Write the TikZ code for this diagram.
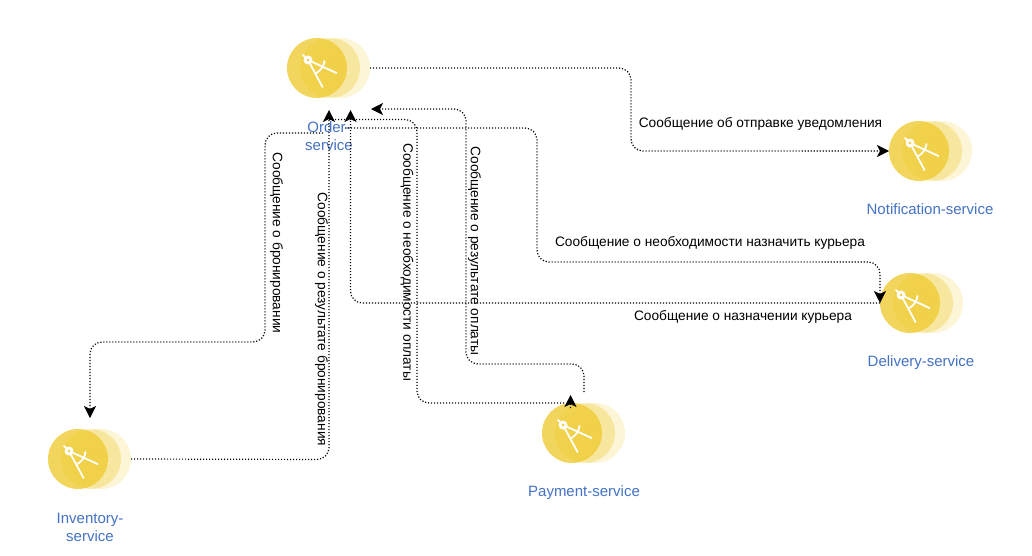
\documentclass[tikz,border=0pt]{standalone}
\usepackage{fontspec}
\setmainfont{Liberation Sans}
\usetikzlibrary{arrows.meta,positioning,calc}
\definecolor{servicefill}{HTML}{EFCB33}
\definecolor{servicetext}{HTML}{4472C4}
\tikzset{
    servicebox/.style={
        rectangle,
        inner sep=0pt,
        outer sep=0pt,
        minimum width=83pt,
        minimum height=60pt,
    },
    servicename/.style={
        align=center,
        text=servicetext,
        font=\fontsize{15}{18}\selectfont,
    },
    message/.style={
        font=\fontsize{13.7}{15}\selectfont,
        text=black,
    },
    link/.style={
        ->,
        line width=1.2pt,
        dash pattern=on 1.2pt off 1.8pt,
        rounded corners=12pt,
    },
    compassicon/.pic={
        \draw [line width=1.8pt,white,line cap=round] (-14,-13) -- (-9,-8) -- (5.5,19);
        \draw [line width=1.8pt,white,line cap=round] (-9,-8) -- (19.5,5);
        \draw [line width=1.8pt,white,line cap=round] (7.5,-7) .. controls (7,-2) and (4,2) .. (-0.5,5);
        \fill [white] (-9,-8) circle (4.5pt);
        \fill [servicefill] (-9,-8) circle (1.3pt);
    },
    ghosticon/.pic={
        \draw [line width=.8pt,white,line cap=round] (-9,-8) -- (5.5,19);
        \draw [line width=.8pt,white,line cap=round] (-9,-8) -- (19.5,5);
    },
    serviceicon/.pic={
        \fill [servicefill,opacity=.2] (23,0) circle (30pt);
        \pic [opacity=.45] at (23,0) {ghosticon};
        \fill [servicefill,opacity=.35] (13,0) circle (30pt);
        \pic [opacity=.45] at (13,0) {ghosticon};
        \fill [servicefill,opacity=.8] (0,0) circle (30pt);
        \pic at (0,0) {compassicon};
    },
}

\begin{document}
\begin{tikzpicture}[x=1pt,y=-1pt,>={Stealth[length=12pt,width=12pt,inset=3pt]}]
	    \useasboundingbox (0,0) rectangle (1032,555);
	    \pic at (317,68) {serviceicon};
	    \pic at (919,151) {serviceicon};
	    \pic at (910,303) {serviceicon};
	    \pic at (572,433) {serviceicon};
	    \pic at (78,459) {serviceicon};
	    \node [servicebox] (order) at (328.5,68) {};
	    \node [servicebox] (notification) at (930.5,151) {};
	    \node [servicebox] (delivery) at (921.5,303) {};
	    \node [servicebox] (payment) at (583.5,433) {};
	    \node [servicebox] (inventory) at (89.5,459) {};
	    \node [servicename] (orderlabel) at (329,136) {Order-\\service};
	    \node [servicename] (notificationlabel) at (930,209.5) {Notification-service};
	    \node [servicename] (deliverylabel) at (921,362.5) {Delivery-service};
	    \node [servicename] (paymentlabel) at (584,492.5) {Payment-service};
	    \node [servicename] (inventorylabel) at (90,527) {Inventory-\\service};
	    \coordinate (orderinv) at (329,110);
	    \coordinate (orderdel) at (350.5,110);
	    \coordinate (orderpay) at (371,109);
	    \coordinate (orderoutinv) at (323,133);
	    \coordinate (orderoutpay) at (329,119.5);
	    \coordinate (orderoutdel) at (345,128);
	    \coordinate (inventoryin) at (90,418);
	    \coordinate (paymentbase) at (570.5,408);
	    \coordinate (paymentin) at (570.5,395);
	    \coordinate (paymentout) at (584,392);
	    \draw [link] (order.east) -- (631,68) -- (631,151) -- (notification.west);
	    \draw [link] (orderoutinv) -- (265,133) -- (265,342) -- (90,342) -- (inventoryin);
	    \draw [link] (inventory.east) -- (329,459.5) -- (orderinv);
	    \draw [link] (orderoutpay) -- (417,119.5) -- (417,403) -- (565,403) (paymentbase) -- (paymentin);
	    \draw [link] (paymentout) -- (584,364) -- (466,364) -- (466,109) -- (orderpay);
	    \draw [link] (orderoutdel) -- (537,128) -- (537,262) -- (880,262) -- (delivery.west);
	    \draw [link] (delivery.west) -- (350.5,303) -- (orderdel);
	    \node [message] (notifytext) at (760.5,123.5) {Сообщение об отправке уведомления};
	    \node [message] (courierneedtext) at (710,242.5) {Сообщение о необходимости назначить курьера};
	    \node [message] (couriersettext) at (743,316.5) {Сообщение о назначении курьера};
	    \node [message,rotate=-90] (bookingtext) at (276.5,243) {Сообщение о бронировании};
	    \node [message,rotate=-90] (bookingresulttext) at (321.5,319.5) {Сообщение о результате бронирования};
	    \node [message,rotate=-90] (payneedtext) at (407,262) {Сообщение о необходимости оплаты};
	    \node [message,rotate=-90] (payresulttext) at (474.5,251) {Сообщение о результате оплаты};
\end{tikzpicture}
\end{document}
